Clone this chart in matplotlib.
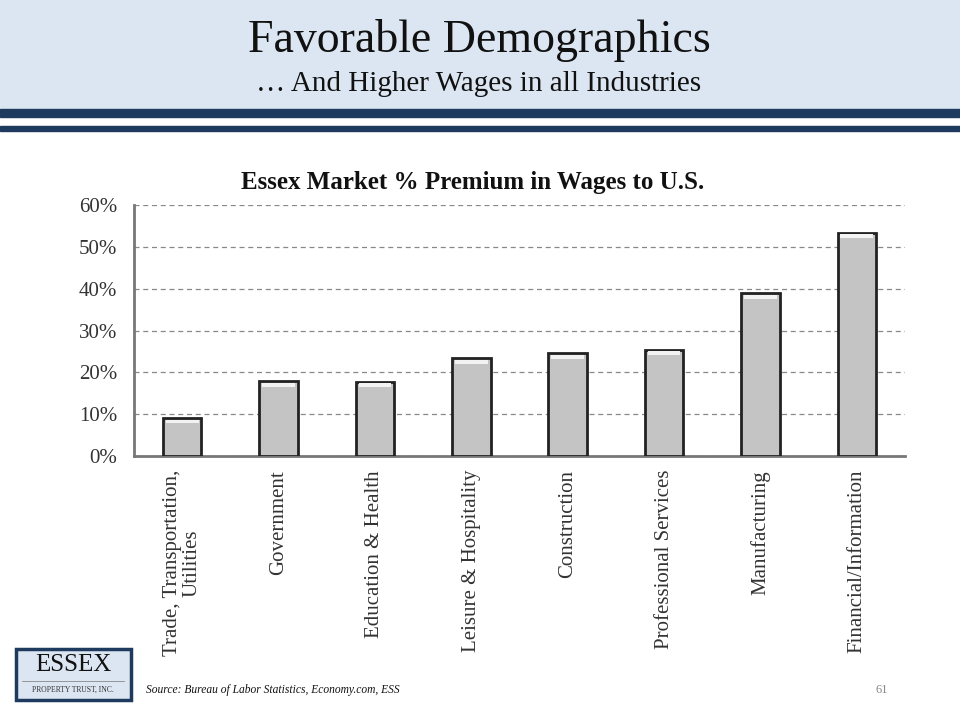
import matplotlib.pyplot as plt
from matplotlib.patches import Rectangle, FancyBboxPatch
from matplotlib.ticker import PercentFormatter

industries = [
    "Trade, Transportation,\nUtilities",
    "Government",
    "Education & Health",
    "Leisure & Hospitality",
    "Construction",
    "Professional Services",
    "Manufacturing",
    "Financial/Information",
]
premium = [9.1, 17.9, 17.8, 23.4, 24.6, 25.4, 38.9, 53.4]
yticks = [0, 10, 20, 30, 40, 50, 60]

serif = ["Liberation Serif", "DejaVu Serif"]
plt.rcParams["font.family"] = serif

fig = plt.figure(figsize=(9.6, 7.2), dpi=100)
W, H = 960, 720

# header band and double rule
fig.patches.append(Rectangle((0, 1 - 109 / H), 1, 109 / H, transform=fig.transFigure,
                             color="#dce6f2", zorder=0))
fig.patches.append(Rectangle((0, 1 - 117 / H), 1, 8 / H, transform=fig.transFigure,
                             color="#1f3a5f", zorder=1))
fig.patches.append(Rectangle((0, 1 - 131 / H), 1, 5 / H, transform=fig.transFigure,
                             color="#1f3a5f", zorder=1))
fig.text(479 / W, 1 - 40 / H, "Favorable Demographics", ha="center", va="center",
         fontsize=33, color="#111111")
fig.text(479 / W, 1 - 84 / H, "\u2026 And Higher Wages in all Industries", ha="center",
         va="center", fontsize=21, color="#111111")

ax = fig.add_axes([134 / W, 1 - 456 / H, 771 / W, 251 / H])
x = range(len(industries))
ax.bar(x, premium, width=0.4, color="#c4c4c4", edgecolor="#222222", linewidth=2, zorder=3)
# light bevel along the top of each bar
ax.bar(x, [0.9] * len(premium), bottom=[p - 1.3 for p in premium], width=0.34,
       color="#f2f2f2", linewidth=0, zorder=4)

ax.set_xlim(-0.5, len(industries) - 0.5)
ax.set_ylim(0, 60)
ax.set_yticks(yticks)
ax.yaxis.set_major_formatter(PercentFormatter(decimals=0))
ax.grid(axis="y", linestyle=(0, (4, 3)), color="#888888", linewidth=0.9, zorder=0)
for s in ["top", "right"]:
    ax.spines[s].set_visible(False)
ax.spines["left"].set_color("#777777")
ax.spines["bottom"].set_color("#777777")
ax.spines["left"].set_linewidth(2)
ax.spines["bottom"].set_linewidth(2)
ax.tick_params(axis="y", length=0, labelsize=15, pad=12, colors="#333333")
ax.tick_params(axis="x", length=0, pad=10)
ax.set_xticks(list(x))
ax.set_xticklabels(industries, rotation=90, fontsize=15, color="#333333", va="top",
                   ha="center", linespacing=1.0)
fig.text(473 / W, 1 - 183 / H, "Essex Market % Premium in Wages to U.S.", ha="center",
         va="center", fontsize=18, fontweight="bold", color="#111111")

# logo box
logo = FancyBboxPatch((16 / W, 1 - 700 / H), 115 / W, 51 / H, transform=fig.transFigure,
                      boxstyle="square,pad=0", facecolor="#dce6f2", edgecolor="#1f3a5f",
                      linewidth=2.5)
fig.patches.append(logo)
fig.text(73 / W, 1 - 665 / H, "ESSEX", ha="center", va="center", fontsize=18, color="#111111")
fig.lines.append(plt.Line2D([22 / W, 124 / W], [1 - 681 / H, 1 - 681 / H],
                            transform=fig.transFigure, color="#888888", linewidth=0.6))
fig.text(73 / W, 1 - 690 / H, "PROPERTY TRUST, INC.", ha="center", va="center",
         fontsize=5.5, color="#333333")

fig.text(146 / W, 1 - 690 / H, "Source: Bureau of Labor Statistics, Economy.com, ESS",
         ha="left", va="center", fontsize=8.3, style="italic", color="#111111")
fig.text(882 / W, 1 - 690 / H, "61", ha="center", va="center", fontsize=9, color="#888888")

fig.savefig("out.png", dpi=100)
